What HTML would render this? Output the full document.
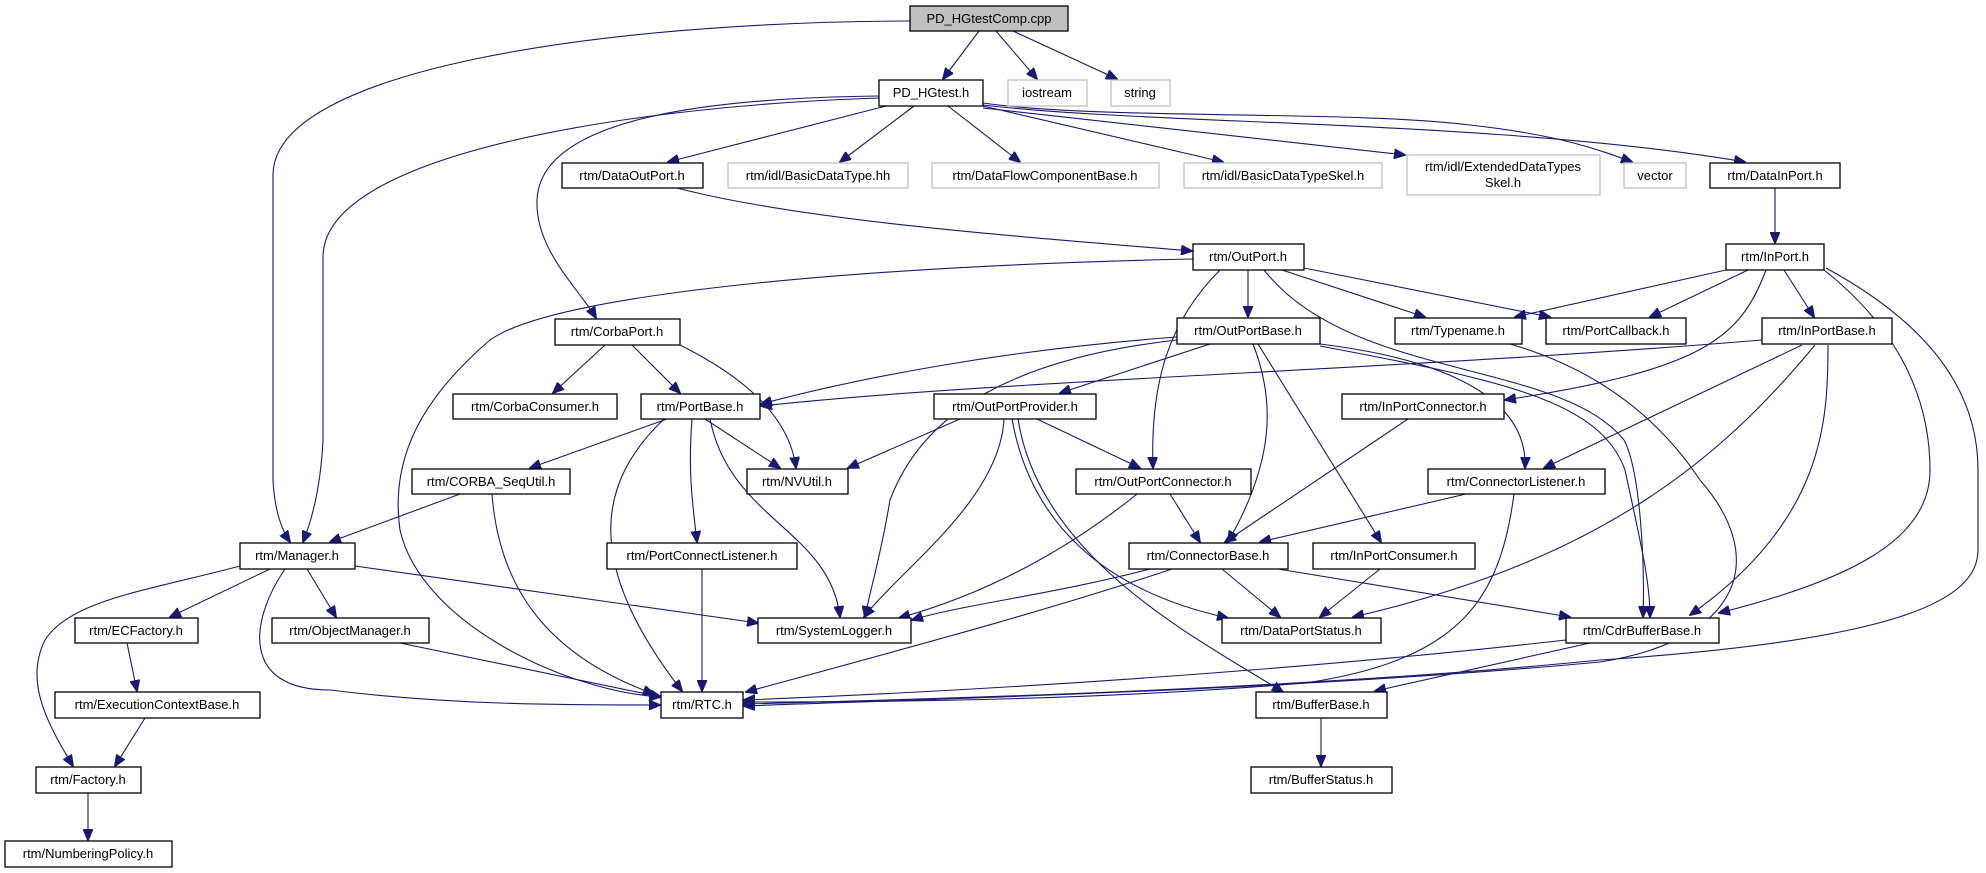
<!DOCTYPE html>
<html><head><meta charset="utf-8"><style>
html,body{margin:0;padding:0;background:#fff;}
svg{display:block}
text{font-family:"Liberation Sans",sans-serif;font-size:13px;fill:#000;text-anchor:middle;}
.b{fill:#fff;stroke:#000;stroke-width:1.3}
.g{fill:#fff;stroke:#bfbfbf;stroke-width:1.3}
.r{fill:#bfbfbf;stroke:#000;stroke-width:1.3}
path{fill:none;stroke:#191970;stroke-width:1.1}
</style></head><body>
<svg width="1986" height="873" viewBox="0 0 1986 873" xmlns="http://www.w3.org/2000/svg">
<defs><marker id="a" markerUnits="userSpaceOnUse" markerWidth="12" markerHeight="10" refX="11" refY="5" orient="auto"><polygon points="0,0 12,5 0,10" fill="#191970" stroke="#191970"/></marker></defs>
<g marker-end="url(#a)">
<path d="M910,21 C600,22 273,70 273,175 L273,480 Q275,520 290,542"/>
<path d="M979,31 L943,79"/>
<path d="M996,31 L1037,79"/>
<path d="M1013,31 L1117,79"/>
<path d="M886,106 L668,162"/>
<path d="M914,106 L840,162"/>
<path d="M948,106 L1020,162"/>
<path d="M983,106 L1223,162"/>
<path d="M983,108 L1405,155"/>
<path d="M983,103 C1100,120 1350,110 1470,125 C1560,135 1600,150 1632,162"/>
<path d="M983,105 C1150,125 1500,120 1745,162"/>
<path d="M879,96 C700,98 540,120 537,200 C535,250 580,290 596,318"/>
<path d="M879,98 C650,105 323,150 323,257 L323,440 Q320,500 303,542"/>
<path d="M677,188 C800,220 1000,235 1192,251"/>
<path d="M1775,188 L1775,243"/>
<path d="M1193,259 C900,265 560,290 490,340 C420,400 390,460 400,530 C420,620 560,690 660,697"/>
<path d="M1248,270 L1248,317"/>
<path d="M1220,270 C1170,320 1150,380 1153,468"/>
<path d="M1282,270 L1425,317"/>
<path d="M1304,268 L1550,317"/>
<path d="M1264,270 C1350,380 1560,360 1624,440 C1640,470 1645,560 1643,617"/>
<path d="M1726,270 L1515,317"/>
<path d="M1748,270 L1650,317"/>
<path d="M1784,270 L1814,317"/>
<path d="M1766,270 C1740,340 1700,370 1505,400"/>
<path d="M1824,270 C1900,330 1930,400 1930,470 C1930,540 1850,580 1719,613"/>
<path d="M1826,268 C1940,330 1978,400 1978,470 L1978,550 C1978,600 1900,640 1600,660 C1300,690 900,700 744,704"/>
<path d="M605,345 L553,393"/>
<path d="M632,345 L680,393"/>
<path d="M680,345 C750,380 790,420 796,468"/>
<path d="M1177,337 C1000,350 850,380 761,404"/>
<path d="M1210,344 L1060,393"/>
<path d="M1177,340 C1000,360 920,420 890,500 C880,560 870,590 865,617"/>
<path d="M1253,344 C1275,400 1275,460 1228,542"/>
<path d="M1258,344 L1381,542"/>
<path d="M1320,344 C1450,360 1528,400 1525,468"/>
<path d="M1320,346 C1500,380 1600,400 1625,470 C1640,540 1650,580 1650,617"/>
<path d="M1510,344 C1600,370 1660,420 1700,480 C1770,560 1740,640 1600,662 C1300,690 900,700 744,706"/>
<path d="M1762,340 C1400,370 1000,380 761,406"/>
<path d="M1802,345 L1544,468"/>
<path d="M1815,345 C1720,460 1600,560 1353,617"/>
<path d="M1828,345 C1828,420 1825,520 1690,615"/>
<path d="M667,419 L530,468"/>
<path d="M705,419 L780,468"/>
<path d="M664,419 C600,480 580,560 682,691"/>
<path d="M692,419 C688,470 692,500 697,542"/>
<path d="M710,419 C730,520 830,530 840,617"/>
<path d="M960,419 L848,468"/>
<path d="M1037,419 L1140,468"/>
<path d="M1004,419 C1000,500 900,570 864,617"/>
<path d="M1012,419 C1030,520 1100,590 1228,618"/>
<path d="M1018,419 C1040,560 1200,640 1283,692"/>
<path d="M1408,419 L1225,542"/>
<path d="M460,494 L330,542"/>
<path d="M492,494 C500,600 560,660 654,694"/>
<path d="M1170,494 L1200,542"/>
<path d="M1137,494 C1080,540 1000,590 899,618"/>
<path d="M1466,494 L1260,542"/>
<path d="M1514,494 C1500,600 1460,660 1305,683 C1100,700 900,702 744,702"/>
<path d="M270,569 L170,617"/>
<path d="M307,569 L336,617"/>
<path d="M355,566 L758,623"/>
<path d="M285,569 C250,620 240,690 330,690 C450,705 560,705 660,705"/>
<path d="M240,566 C150,590 70,600 45,640 C25,680 45,720 73,766"/>
<path d="M702,569 L702,691"/>
<path d="M1150,569 C1050,595 960,605 912,620"/>
<path d="M1172,569 C1050,610 900,650 746,692"/>
<path d="M1222,569 L1280,617"/>
<path d="M1278,569 L1570,617"/>
<path d="M1380,569 L1320,617"/>
<path d="M1566,640 C1300,670 1000,690 744,700"/>
<path d="M1590,643 L1375,691"/>
<path d="M127,643 L137,691"/>
<path d="M145,718 L115,766"/>
<path d="M400,643 L661,697"/>
<path d="M1321,718 L1321,766"/>
<path d="M88,793 L88,840"/>
</g>
<rect class="r" x="910" y="6" width="158" height="25"/><text x="989" y="23">PD_HGtestComp.cpp</text>
<rect class="b" x="879" y="80" width="104" height="26"/><text x="931" y="97">PD_HGtest.h</text>
<rect class="g" x="1008" y="80" width="79" height="26"/><text x="1047" y="97">iostream</text>
<rect class="g" x="1111" y="80" width="59" height="26"/><text x="1140" y="97">string</text>
<rect class="b" x="562" y="163" width="141" height="25"/><text x="632" y="180">rtm/DataOutPort.h</text>
<rect class="g" x="728" y="163" width="180" height="25"/><text x="818" y="180">rtm/idl/BasicDataType.hh</text>
<rect class="g" x="932" y="163" width="227" height="25"/><text x="1045" y="180">rtm/DataFlowComponentBase.h</text>
<rect class="g" x="1184" y="163" width="198" height="25"/><text x="1283" y="180">rtm/idl/BasicDataTypeSkel.h</text>
<rect class="g" x="1407" y="155" width="193" height="40"/><text x="1503" y="171">rtm/idl/ExtendedDataTypes</text><text x="1503" y="187">Skel.h</text>
<rect class="g" x="1624" y="163" width="62" height="25"/><text x="1655" y="180">vector</text>
<rect class="b" x="1710" y="163" width="130" height="25"/><text x="1775" y="180">rtm/DataInPort.h</text>
<rect class="b" x="1193" y="244" width="111" height="26"/><text x="1248" y="261">rtm/OutPort.h</text>
<rect class="b" x="1726" y="244" width="98" height="26"/><text x="1775" y="261">rtm/InPort.h</text>
<rect class="b" x="555" y="319" width="125" height="26"/><text x="617" y="336">rtm/CorbaPort.h</text>
<rect class="b" x="1177" y="318" width="143" height="26"/><text x="1248" y="335">rtm/OutPortBase.h</text>
<rect class="b" x="1395" y="318" width="127" height="26"/><text x="1458" y="335">rtm/Typename.h</text>
<rect class="b" x="1546" y="318" width="140" height="26"/><text x="1616" y="335">rtm/PortCallback.h</text>
<rect class="b" x="1762" y="318" width="130" height="26"/><text x="1827" y="335">rtm/InPortBase.h</text>
<rect class="b" x="453" y="394" width="164" height="25"/><text x="535" y="411">rtm/CorbaConsumer.h</text>
<rect class="b" x="641" y="394" width="119" height="25"/><text x="700" y="411">rtm/PortBase.h</text>
<rect class="b" x="934" y="394" width="162" height="25"/><text x="1015" y="411">rtm/OutPortProvider.h</text>
<rect class="b" x="1342" y="394" width="162" height="25"/><text x="1423" y="411">rtm/InPortConnector.h</text>
<rect class="b" x="412" y="469" width="158" height="25"/><text x="491" y="486">rtm/CORBA_SeqUtil.h</text>
<rect class="b" x="747" y="469" width="101" height="25"/><text x="797" y="486">rtm/NVUtil.h</text>
<rect class="b" x="1076" y="469" width="175" height="25"/><text x="1163" y="486">rtm/OutPortConnector.h</text>
<rect class="b" x="1428" y="469" width="177" height="25"/><text x="1516" y="486">rtm/ConnectorListener.h</text>
<rect class="b" x="240" y="543" width="115" height="26"/><text x="297" y="560">rtm/Manager.h</text>
<rect class="b" x="607" y="543" width="190" height="26"/><text x="702" y="560">rtm/PortConnectListener.h</text>
<rect class="b" x="1129" y="543" width="159" height="26"/><text x="1208" y="560">rtm/ConnectorBase.h</text>
<rect class="b" x="1313" y="543" width="162" height="26"/><text x="1394" y="560">rtm/InPortConsumer.h</text>
<rect class="b" x="75" y="618" width="123" height="25"/><text x="136" y="635">rtm/ECFactory.h</text>
<rect class="b" x="272" y="618" width="157" height="25"/><text x="350" y="635">rtm/ObjectManager.h</text>
<rect class="b" x="758" y="618" width="153" height="25"/><text x="834" y="635">rtm/SystemLogger.h</text>
<rect class="b" x="1222" y="618" width="159" height="25"/><text x="1301" y="635">rtm/DataPortStatus.h</text>
<rect class="b" x="1566" y="618" width="153" height="25"/><text x="1642" y="635">rtm/CdrBufferBase.h</text>
<rect class="b" x="55" y="692" width="205" height="26"/><text x="157" y="709">rtm/ExecutionContextBase.h</text>
<rect class="b" x="661" y="692" width="82" height="26"/><text x="702" y="709">rtm/RTC.h</text>
<rect class="b" x="1256" y="692" width="131" height="26"/><text x="1321" y="709">rtm/BufferBase.h</text>
<rect class="b" x="36" y="767" width="105" height="26"/><text x="88" y="784">rtm/Factory.h</text>
<rect class="b" x="1251" y="767" width="141" height="26"/><text x="1321" y="784">rtm/BufferStatus.h</text>
<rect class="b" x="5" y="841" width="167" height="26"/><text x="88" y="858">rtm/NumberingPolicy.h</text>
</svg>
</body></html>
